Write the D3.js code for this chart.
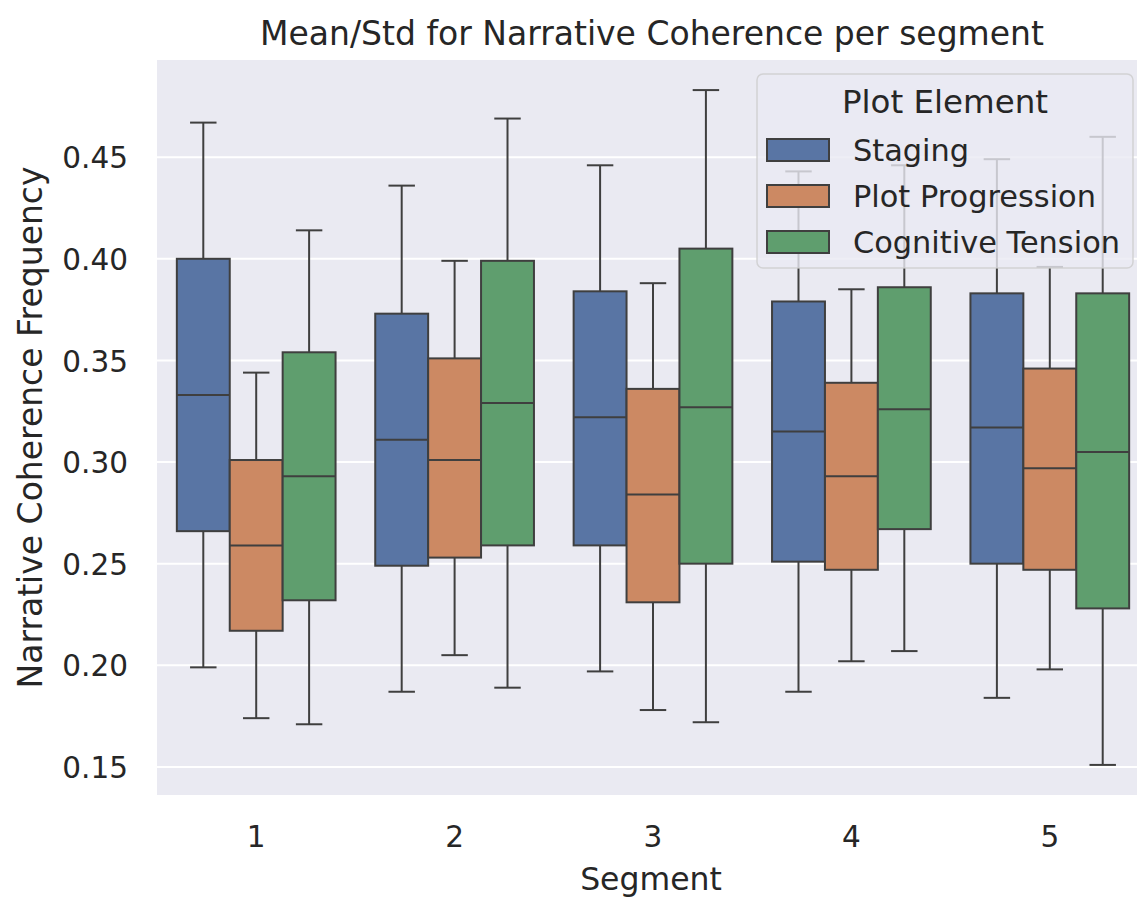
<!DOCTYPE html>
<html>
<head>
<meta charset="utf-8">
<script src="https://cdn.jsdelivr.net/npm/d3@7"></script>
<style>
  html, body { margin: 0; padding: 0; background: #ffffff; }
  svg { display: block; }
  text { font-family: "DejaVu Sans", sans-serif; fill: #262626; }
</style>
</head>
<body>
<svg id="chart" width="1137" height="899"></svg>
<script>
// Segments on the x axis
const segments = ["1", "2", "3", "4", "5"];
// Plot elements (hue groups)
const elements = ["Staging", "Plot Progression", "Cognitive Tension"];
const elementColors = ["#5975a4", "#cc8963", "#5f9e6e"];

// Per segment: [lower whisker, Q1, median, Q3, upper whisker]
const staging = [
  [0.199, 0.266, 0.333, 0.400, 0.467],
  [0.187, 0.249, 0.311, 0.373, 0.436],
  [0.197, 0.259, 0.322, 0.384, 0.446],
  [0.187, 0.251, 0.315, 0.379, 0.443],
  [0.184, 0.250, 0.317, 0.383, 0.449]
];
const plotProgression = [
  [0.174, 0.217, 0.259, 0.301, 0.344],
  [0.205, 0.253, 0.301, 0.351, 0.399],
  [0.178, 0.231, 0.284, 0.336, 0.388],
  [0.202, 0.247, 0.293, 0.339, 0.385],
  [0.198, 0.247, 0.297, 0.346, 0.396]
];
const cognitiveTension = [
  [0.171, 0.232, 0.293, 0.354, 0.414],
  [0.189, 0.259, 0.329, 0.399, 0.469],
  [0.172, 0.250, 0.327, 0.405, 0.483],
  [0.207, 0.267, 0.326, 0.386, 0.446],
  [0.151, 0.228, 0.305, 0.383, 0.460]
];
const seriesStats = [staging, plotProgression, cognitiveTension];

const yTicks = [0.15, 0.20, 0.25, 0.30, 0.35, 0.40, 0.45];

const svg = d3.select("#chart");
const plot = { left: 157, right: 1149, top: 60, bottom: 795 };
const lineColor = "#3f3f3f";

const x = d3.scaleBand().domain(segments).range([plot.left, plot.right]).paddingInner(0).paddingOuter(0);
const xHue = d3.scaleBand().domain(elements).range([0, x.bandwidth() * 0.8]);
const y = d3.scaleLinear().domain([0.1362, 0.4978]).range([plot.bottom, plot.top]);

// Axes background
svg.append("rect")
  .attr("x", plot.left).attr("y", plot.top)
  .attr("width", plot.right - plot.left).attr("height", plot.bottom - plot.top)
  .attr("fill", "#eaeaf2");

// Horizontal grid lines
svg.append("g").selectAll("line").data(yTicks).join("line")
  .attr("x1", plot.left).attr("x2", plot.right)
  .attr("y1", d => y(d)).attr("y2", d => y(d))
  .attr("stroke", "#ffffff").attr("stroke-width", 2);

// Y axis labels
const yAxis = d3.axisLeft(y).tickValues(yTicks).tickFormat(d3.format(".2f")).tickSize(0).tickPadding(29);
svg.append("g").attr("transform", `translate(${plot.left},0)`).call(yAxis)
  .call(g => g.select(".domain").remove())
  .selectAll("text").style("font-size", "29.5px").attr("fill", "#262626").attr("dy", "0.36em");

// X axis labels
const xAxis = d3.axisBottom(x).tickSize(0).tickPadding(31);
svg.append("g").attr("transform", `translate(0,${plot.bottom})`).call(xAxis)
  .call(g => g.select(".domain").remove())
  .selectAll("text").style("font-size", "29.5px").attr("fill", "#262626");

// Boxes
const boxes = svg.append("g");
seriesStats.forEach((stats, si) => {
  const boxW = xHue.bandwidth();
  stats.forEach((s, ci) => {
    const [lo, q1, med, q3, hi] = s;
    const x0 = x(segments[ci]) + x.bandwidth() * 0.1 + xHue(elements[si]);
    const cx = x0 + boxW / 2;
    const capW = boxW / 2;
    const g = boxes.append("g");
    g.append("line").attr("x1", cx).attr("x2", cx).attr("y1", y(hi)).attr("y2", y(q3))
      .attr("stroke", lineColor).attr("stroke-width", 2);
    g.append("line").attr("x1", cx).attr("x2", cx).attr("y1", y(q1)).attr("y2", y(lo))
      .attr("stroke", lineColor).attr("stroke-width", 2);
    g.append("line").attr("x1", cx - capW / 2).attr("x2", cx + capW / 2).attr("y1", y(hi)).attr("y2", y(hi))
      .attr("stroke", lineColor).attr("stroke-width", 2);
    g.append("line").attr("x1", cx - capW / 2).attr("x2", cx + capW / 2).attr("y1", y(lo)).attr("y2", y(lo))
      .attr("stroke", lineColor).attr("stroke-width", 2);
    g.append("rect").attr("x", x0).attr("y", y(q3)).attr("width", boxW).attr("height", y(q1) - y(q3))
      .attr("fill", elementColors[si]).attr("stroke", lineColor).attr("stroke-width", 2);
    g.append("line").attr("x1", x0).attr("x2", x0 + boxW).attr("y1", y(med)).attr("y2", y(med))
      .attr("stroke", lineColor).attr("stroke-width", 2);
  });
});

// Title and axis labels
svg.append("text").attr("x", 652).attr("y", 45)
  .attr("text-anchor", "middle").style("font-size", "33px")
  .text("Mean/Std for Narrative Coherence per segment");
svg.append("text").attr("x", 651).attr("y", 890)
  .attr("text-anchor", "middle").style("font-size", "31.5px").text("Segment");
svg.append("text")
  .attr("transform", `translate(42,${(plot.top + plot.bottom) / 2}) rotate(-90)`)
  .attr("text-anchor", "middle").style("font-size", "33px")
  .text("Narrative Coherence Frequency");

// Legend
const legend = svg.append("g");
legend.append("rect").attr("x", 757).attr("y", 74).attr("width", 376).attr("height", 194)
  .attr("rx", 6).attr("fill", "#eaeaf2").attr("fill-opacity", 0.8)
  .attr("stroke", "#cccccc").attr("stroke-opacity", 0.8).attr("stroke-width", 1.5);
legend.append("text").attr("x", 945).attr("y", 113).attr("text-anchor", "middle")
  .style("font-size", "32.5px").text("Plot Element");
elements.forEach((name, i) => {
  const cy = 150 + i * 46;
  legend.append("rect").attr("x", 767).attr("y", cy - 11).attr("width", 62).attr("height", 22)
    .attr("fill", elementColors[i]).attr("stroke", lineColor).attr("stroke-width", 2);
  legend.append("text").attr("x", 853).attr("y", cy + 11).style("font-size", "30.4px").text(name);
});
</script>
</body>
</html>
